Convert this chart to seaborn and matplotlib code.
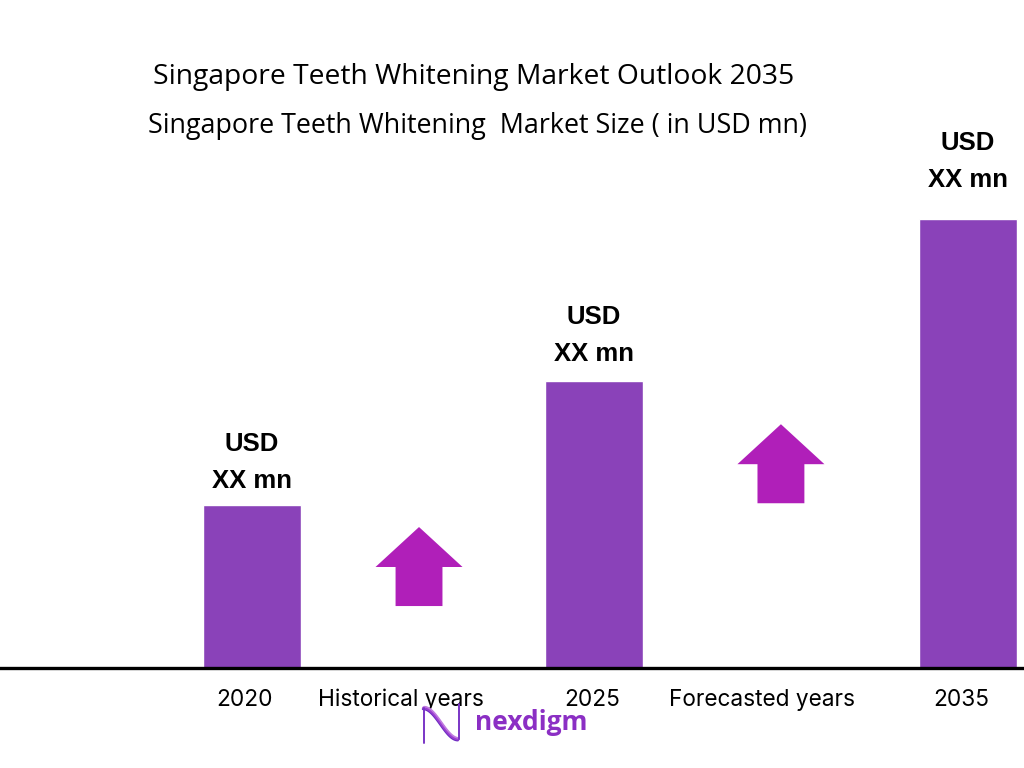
import numpy as np
import pandas as pd
import matplotlib
matplotlib.use("Agg")
import matplotlib.pyplot as plt
from matplotlib.patches import FancyArrow
import seaborn as sns

# ---- data ----
years = ["2020", "2025", "2035"]
market_size = [36.3, 63.9, 100.0]          # relative bar heights (values shown as "XX mn")
value_top = ["USD", "USD", "USD"]
value_bottom = ["XX mn", "XX mn", "XX mn"]
tick_labels = ["2020", "Historical years", "2025", "Forecasted years", "2035"]
title = "Singapore Teeth Whitening Market Outlook 2035"
subtitle = "Singapore Teeth Whitening  Market Size ( in USD mn)"

# ---- layout ----
bar_x = [0.0, 1.91, 4.0]
tick_x = [-0.04, 0.83, 1.90, 2.85, 3.96]
label_lift = [0.0, 2.0, 11.0]    # extra offset (points) of the value labels
arrow_x = [0.933, 2.955]
arrow_base = [13.8, 36.7]
arrow_len = 17.6
BAR_COLOR = "#8A42B9"
ARROW_COLOR = "#B01FB9"

sns.set_theme(style="white")
plt.rcParams["font.family"] = ["Liberation Sans", "DejaVu Sans"]
plt.rcParams["text.color"] = "black"

fig = plt.figure(figsize=(10.24, 7.68), dpi=100)
ax = fig.add_axes([0, 100 / 768, 1, 668 / 768])

df = pd.DataFrame({"x": bar_x, "size": market_size})
sns.barplot(data=df, x="x", y="size", native_scale=True, color=BAR_COLOR,
            saturation=1, width=0.285, ax=ax, zorder=2)

ax.set_xlim(-1.408, 4.313)
ax.set_ylim(0, 148.8)
for s in ["top", "right", "left"]:
    ax.spines[s].set_visible(False)
ax.spines["bottom"].set_color("black")
ax.spines["bottom"].set_linewidth(2.4)
ax.spines["bottom"].set_zorder(3)
ax.set_yticks([])
ax.set_xlabel("")
ax.set_ylabel("")
ax.set_xticks(tick_x, tick_labels)
ax.tick_params(axis="x", length=0, pad=15, labelsize=16.3, labelcolor="black")
for lab in ax.get_xticklabels():
    lab.set_family(["Inter", "DejaVu Sans"])

# value labels
for x, v, top, bottom, lift in zip(bar_x, market_size, value_top, value_bottom, label_lift):
    ax.annotate(bottom, (x, v), xytext=(0, 17.3 + lift), textcoords="offset points",
                ha="center", va="center", fontsize=18.5, fontweight="bold", color="black")
    ax.annotate(top, (x, v), xytext=(0, 44 + lift), textcoords="offset points",
                ha="center", va="center", fontsize=18.5, fontweight="bold", color="black")

# growth arrows
for x, b in zip(arrow_x, arrow_base):
    ax.add_patch(FancyArrow(x, b, 0, arrow_len, width=0.262, head_width=0.486,
                            head_length=8.9, length_includes_head=True,
                            color=ARROW_COLOR, lw=0, zorder=2))

# titles
fig.text(153 / 1024, 1 - 77 / 768, title, fontsize=20.3, family=["Open Sans", "DejaVu Sans"],
         ha="left", va="center", color="black")
fig.text(148 / 1024, 1 - 126 / 768, subtitle, fontsize=19.4, family=["Open Sans", "DejaVu Sans"],
         ha="left", va="center", color="black")

# logo
fig.text(475 / 1024, 1 - 722 / 768, "nexdigm", fontsize=19, fontweight="bold",
         color="#8B2FC4", ha="left", va="center", family=["Open Sans", "DejaVu Sans"])
lax = fig.add_axes([420 / 1024, 1 - 745 / 768, 42 / 1024, 43 / 768])
lax.axis("off")
t = np.linspace(0, 1, 100)
for off, c, lw in [(-0.06, "#6A2BC0", 1.6), (0.0, "#9A3FD0", 2.0), (0.06, "#C07BE0", 1.2)]:
    lax.plot(t + off * 0.3, np.cos(np.pi * t) * 0.8 + off, color=c, lw=lw)
lax.plot([0.0, 0.0], [-1, 0.8], color="#7A35C6", lw=1.4)
lax.plot([1.0, 1.0], [-0.8, 1], color="#7A35C6", lw=1.4)
lax.set_xlim(-0.1, 1.1)
lax.set_ylim(-1.1, 1.1)

fig.savefig("out.png", dpi=100, facecolor="white")
